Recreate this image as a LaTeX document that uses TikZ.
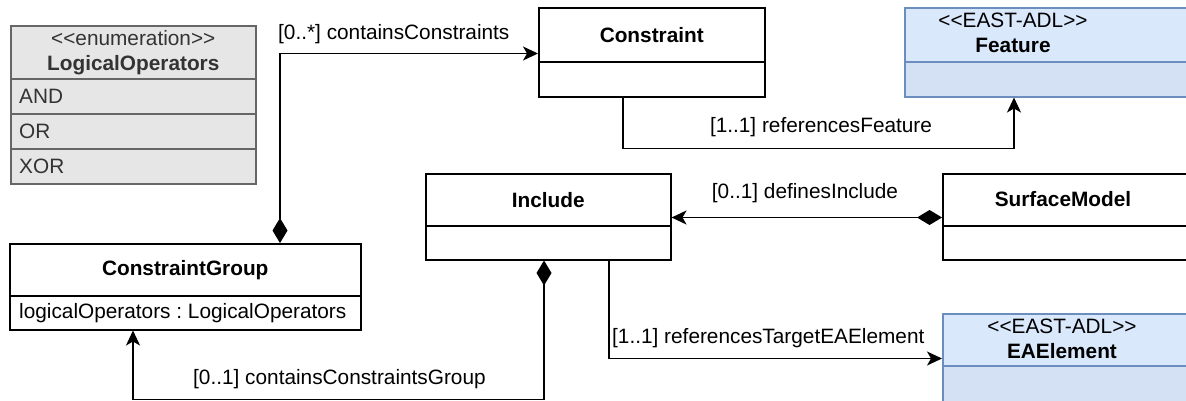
\documentclass[tikz,border=0pt]{standalone}
\usepackage{fontspec}
\setmainfont{Liberation Sans}
\usetikzlibrary{arrows.meta,calc}
\definecolor{enumfill}{HTML}{E6E6E6}
\definecolor{enumdraw}{HTML}{666666}
\definecolor{enumtext}{HTML}{333333}
\definecolor{bluehead}{HTML}{DAE8FC}
\definecolor{bluebody}{HTML}{D4E1F5}
\definecolor{bluedraw}{HTML}{6C8EBF}
\newcommand{\lt}{<\kern0pt<}
\newcommand{\gt}{>\kern0pt>}
\frenchspacing
\tikzset{
  txt/.style={font=\fontsize{20.8}{25}\selectfont\frenchspacing, inner sep=0pt, align=center},
  cls/.style={draw=black, line width=1.5pt, fill=white, anchor=north west, inner sep=0pt},
  enumbox/.style={draw=enumdraw, line width=1.5pt, fill=enumfill, anchor=north west, inner sep=0pt},
  eahead/.style={draw=bluedraw, line width=1.5pt, fill=bluehead, anchor=north west, inner sep=0pt},
  eabody/.style={draw=bluedraw, line width=1.5pt, fill=bluebody, anchor=north west, inner sep=0pt},
  conn/.style={line width=1.5pt, draw=black},
  tip/.style={-{Stealth[length=15pt,width=14pt,inset=4pt]}},
  comptip/.style={{Diamond[length=25pt,width=15pt]}-{Stealth[length=15pt,width=14pt,inset=4pt]}},
}
\begin{document}
\begin{tikzpicture}[x=1pt,y=-1pt]
\clip (0,0) rectangle (1186,400);
\fill[white] (0,0) rectangle (1186,400);

% Enumeration LogicalOperators
\node[enumbox, minimum width=245pt, minimum height=53pt] (enumH) at (10,25) {};
\node[enumbox, minimum width=245pt, minimum height=35pt] (enumA) at (10,78) {};
\node[enumbox, minimum width=245pt, minimum height=35pt] (enumO) at (10,113) {};
\node[enumbox, minimum width=245pt, minimum height=35pt] (enumX) at (10,148) {};
\node[txt, text=enumtext] (enumT) at (enumH.center) {\lt enumeration\gt\\\textbf{LogicalOperators}};
\node[txt, text=enumtext, anchor=west] (enumAT) at ($(enumA.west)+(9,0)$) {AND};
\node[txt, text=enumtext, anchor=west] (enumOT) at ($(enumO.west)+(9,0)$) {OR};
\node[txt, text=enumtext, anchor=west] (enumXT) at ($(enumX.west)+(9,0)$) {XOR};

% Constraint
\node[cls, minimum width=226pt, minimum height=54pt] (constraintH) at (538,7) {};
\node[cls, minimum width=226pt, minimum height=35pt] (constraintB) at (538,61) {};
\node[txt] (constraintT) at (constraintH.center) {\textbf{Constraint}};

% Feature
\node[eahead, minimum width=300pt, minimum height=54pt] (featureH) at (904,7) {};
\node[eabody, minimum width=300pt, minimum height=35pt] (featureB) at (904,61) {};
\node[txt] (featureT) at (1013,33) {\lt EAST-ADL\gt\\\textbf{Feature}};

% Include
\node[cls, minimum width=245pt, minimum height=52pt] (includeH) at (425,173) {};
\node[cls, minimum width=245pt, minimum height=34pt] (includeB) at (425,225) {};
\node[txt] (includeT) at (includeH.center) {\textbf{Include}};

% SurfaceModel
\node[cls, minimum width=260pt, minimum height=52pt] (smH) at (942,173) {};
\node[cls, minimum width=260pt, minimum height=34pt] (smB) at (942,225) {};
\node[txt] (smT) at (1063,199) {\textbf{SurfaceModel}};

% ConstraintGroup
\node[cls, minimum width=351pt, minimum height=52pt] (cgH) at (9,243) {};
\node[cls, minimum width=351pt, minimum height=34pt] (cgB) at (9,295) {};
\node[txt] (cgT) at (cgH.center) {\textbf{ConstraintGroup}};
\node[txt, anchor=west] (cgA) at ($(cgB.west)+(10,0)$) {logicalOperators : LogicalOperators};

% EAElement
\node[eahead, minimum width=260pt, minimum height=52pt] (eaH) at (942,313) {};
\node[eabody, minimum width=260pt, minimum height=40pt] (eaB) at (942,365) {};
\node[txt] (eaT) at (1062,339) {\lt EAST-ADL\gt\\\textbf{EAElement}};

% Connectors
\draw[conn, comptip] ($(cgH.north west)+(271,0)$) |- ($(constraintH.south west)+(0,-9)$);
\draw[conn, tip] ($(constraintB.south west)+(85,0)$) -- ++(0,51) -| ($(featureB.south west)+(110,0)$);
\draw[conn, comptip] ($(smH.south west)+(0,-9)$) -- ($(includeH.south east)+(0,-9)$);
\draw[conn, comptip] ($(includeB.south west)+(119,0)$) -- ++(0,139) -| ($(cgB.south west)+(124,0)$);
\draw[conn, tip] ($(includeB.south west)+(184,0)$) |- ($(eaH.south west)+(0,-8)$);

% Labels
\node[txt, anchor=west] (l1) at (278,34) {[0..*] containsConstraints};
\node[txt] (l2) at (821,127) {[1..1] referencesFeature};
\node[txt] (l3) at (805,193) {[0..1] definesInclude};
\node[txt, anchor=west] (l4) at (612,338) {[1..1] referencesTargetEAElement};
\node[txt, anchor=west] (l5) at (193,379) {[0..1] containsConstraintsGroup};
\end{tikzpicture}
\end{document}
